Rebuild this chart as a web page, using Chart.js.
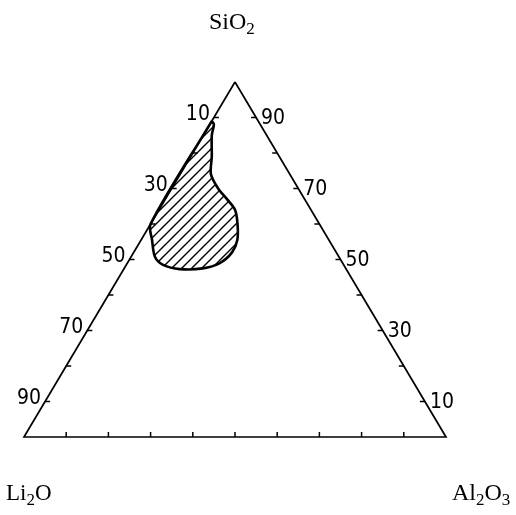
<!DOCTYPE html>
<html>
<head>
<meta charset="utf-8">
<script src="https://cdn.jsdelivr.net/npm/chart.js@4.4.1/dist/chart.umd.min.js"></script>
<style>
  html, body { margin: 0; padding: 0; background: #fff; }
  #c { display: block; }
</style>
</head>
<body>
<canvas id="c" width="516" height="515"></canvas>
<script>
// === Data (mol %) ===
const corners = ['SiO2', 'Li2O', 'Al2O3'];
const tickSteps = [10, 20, 30, 40, 50, 60, 70, 80, 90];
const leftLabels = [10, 30, 50, 70, 90];   // Li2O on left edge
const rightLabels = [90, 70, 50, 30, 10];  // SiO2 on right edge

// glass-forming region outline (SiO2 / Al2O3, Li2O is the rest)
const regionSiO2  = [89, 88, 85, 79, 74, 70, 67, 64, 60, 55.5, 52, 49, 47.5, 47.3, 48.5, 50.7, 55.5, 60, 89];
const regionAl2O3 = [0, 1, 2, 5, 7.3, 11, 14.6, 18, 20.6, 22.8, 23.3, 21.9, 18.6, 13.3, 8.7, 5.7, 2.6, 0, 0];

// === Helpers ===
// ternary -> plot coords (x along base, y = SiO2 height)
const toXY = (s, a) => ({ x: a + s / 2, y: s });

const edgePts = [toXY(100, 0), toXY(0, 0), toXY(0, 100), toXY(100, 0)];
const regionPts = regionSiO2.map((s, i) => toXY(s, regionAl2O3[i]));

// hatch pattern
function hatch() {
  const p = document.createElement('canvas');
  p.width = 10; p.height = 10;
  const g = p.getContext('2d');
  g.strokeStyle = '#000';
  g.lineWidth = 1.4;
  g.beginPath();
  g.moveTo(-1, 11); g.lineTo(11, -1);
  g.moveTo(-6, 6); g.lineTo(6, -6);
  g.moveTo(4, 16); g.lineTo(16, 4);
  g.stroke();
  return g.createPattern(p, 'repeat');
}

// === Ticks, numbers and oxide names ===
const decor = {
  id: 'decor',
  afterDatasetsDraw(chart) {
    const { ctx, scales: { x, y } } = chart;
    const px = p => ({ x: x.getPixelForValue(p.x), y: y.getPixelForValue(p.y) });
    ctx.save();
    ctx.strokeStyle = '#000';
    ctx.lineWidth = 1.5;
    ctx.beginPath();
    tickSteps.forEach(k => {
      const l = px(toXY(100 - k, 0));      // left edge
      ctx.moveTo(l.x, l.y); ctx.lineTo(l.x + 5, l.y);
      const r = px(toXY(k, 100 - k));      // right edge
      ctx.moveTo(r.x, r.y); ctx.lineTo(r.x - 5, r.y);
      const b = px(toXY(0, k));            // base
      ctx.moveTo(b.x, b.y); ctx.lineTo(b.x, b.y - 5);
    });
    ctx.stroke();

    ctx.fillStyle = '#000';
    ctx.font = '21px "DejaVu Sans Condensed", "DejaVu Sans"';
    ctx.textBaseline = 'middle';
    ctx.textAlign = 'right';
    leftLabels.forEach(k => {
      const l = px(toXY(100 - k, 0));
      ctx.fillText(String(k), l.x - 4, l.y - 3);
    });
    ctx.textAlign = 'left';
    rightLabels.forEach(k => {
      const r = px(toXY(k, 100 - k));
      ctx.fillText(String(k), r.x + 5, r.y + 1);
    });

    // formula text with subscripts
    const formula = (parts, x0, y0, big, small) => {
      let cx = x0;
      parts.forEach(([t, sub]) => {
        ctx.font = (sub ? small : big) + 'px "Liberation Serif"';
        ctx.fillText(t, cx, sub ? y0 + 5 : y0);
        cx += ctx.measureText(t).width;
      });
    };
    ctx.textAlign = 'left';
    ctx.textBaseline = 'alphabetic';
    formula([['Si'], ['O'], ['2', 1]], 209, 29, 24, 17);
    formula([['Li'], ['2', 1], ['O']], 6, 500, 23, 17);
    formula([['Al'], ['2', 1], ['O'], ['3', 1]], 452, 500, 24, 17);
    ctx.restore();
  }
};

// === Chart ===
// plot box: x -5.687..116.59 -> 0..516 px, y -21.97..123.1 -> 515..0 px
new Chart(document.getElementById('c'), {
  type: 'scatter',
  data: {
    datasets: [
      {
        label: 'region',
        data: regionPts,
        showLine: true,
        fill: 'shape',
        backgroundColor: hatch(),
        borderColor: '#000',
        borderWidth: 2.6,
        pointRadius: 0,
        tension: 0.3
      },
      {
        label: 'triangle',
        data: edgePts,
        showLine: true,
        fill: false,
        borderColor: '#000',
        borderWidth: 1.7,
        pointRadius: 0
      }
    ]
  },
  options: {
    responsive: false,
    animation: false,
    layout: { padding: 0 },
    scales: {
      x: { type: 'linear', min: -5.687, max: 116.59, display: false },
      y: { type: 'linear', min: -21.97, max: 123.1, display: false }
    },
    plugins: { legend: { display: false }, tooltip: { enabled: false } }
  },
  plugins: [decor]
});
</script>
</body>
</html>
